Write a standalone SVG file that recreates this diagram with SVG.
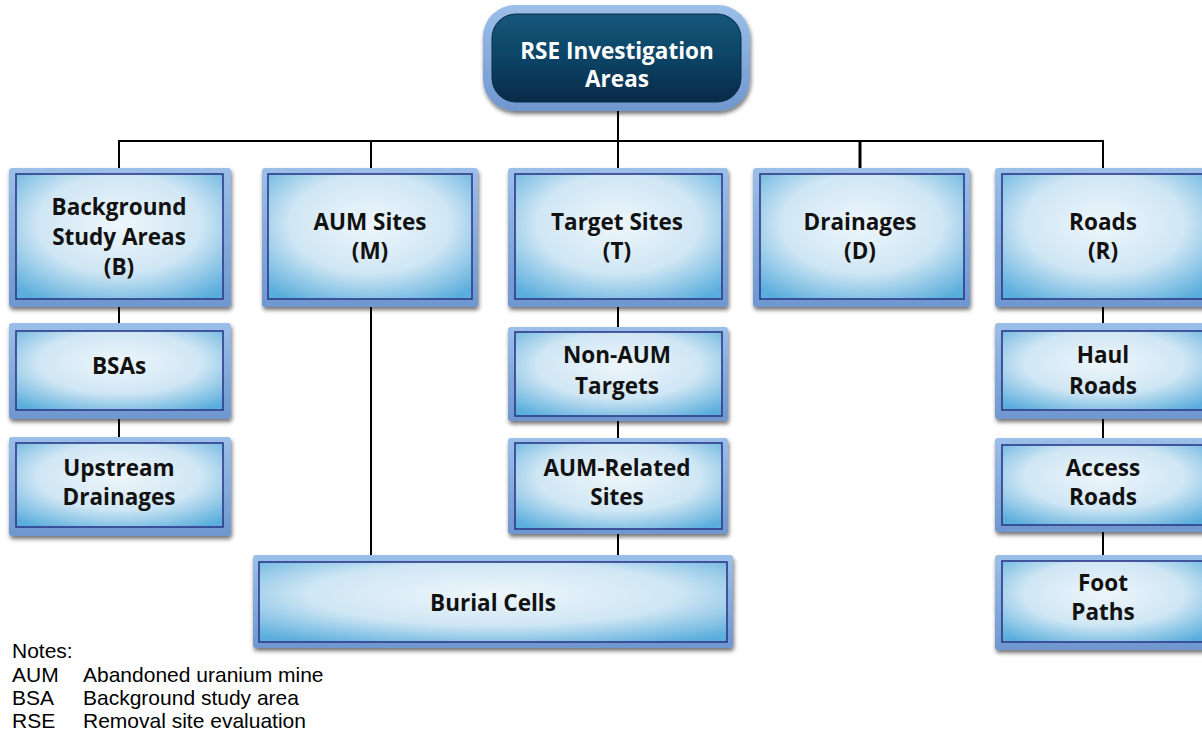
<svg xmlns="http://www.w3.org/2000/svg" width="1202" height="731" viewBox="0 0 1202 731">
<defs>
<radialGradient id="boxFill" cx="50%" cy="40%" r="72%">
<stop offset="0" stop-color="#eef6fb"/>
<stop offset="0.55" stop-color="#cfe6f4"/>
<stop offset="1" stop-color="#5aaddc"/>
</radialGradient>
<linearGradient id="topFill" x1="0" y1="0" x2="0" y2="1">
<stop offset="0" stop-color="#14577a"/>
<stop offset="0.5" stop-color="#0c4466"/>
<stop offset="1" stop-color="#082a47"/>
</linearGradient>
<linearGradient id="rimFill" x1="0" y1="0" x2="0" y2="1">
<stop offset="0" stop-color="#9cbfe9"/>
<stop offset="1" stop-color="#6f97cf"/>
</linearGradient>
<filter id="shadow" x="-10%" y="-10%" width="120%" height="130%">
<feGaussianBlur in="SourceAlpha" stdDeviation="2"/>
<feOffset dx="1" dy="3" result="b"/>
<feComponentTransfer><feFuncA type="linear" slope="0.55"/></feComponentTransfer>
<feMerge><feMergeNode/><feMergeNode in="SourceGraphic"/></feMerge>
</filter>
</defs>
<style>
.rim{fill:url(#rimFill);filter:url(#shadow);}
.inner{fill:url(#boxFill);stroke:#2c3a8a;stroke-width:1.6;}
.lbl{font-family:"Open Sans","DejaVu Sans",sans-serif;font-weight:bold;font-size:22.5px;fill:#111;text-anchor:middle;}
.top{font-family:"Open Sans","DejaVu Sans",sans-serif;font-weight:bold;font-size:22.5px;fill:#ffffff;text-anchor:middle;}
.conn{stroke:#000;stroke-width:2;fill:none;}
.note{font-family:"Liberation Sans",Arial,sans-serif;font-size:21px;fill:#000;}
</style>

<g id="connectors">
<line class="conn" x1="618" y1="108" x2="618" y2="141"/>
<line class="conn" x1="118" y1="141" x2="1104" y2="141"/>
<line class="conn" x1="119" y1="140" x2="119" y2="169"/>
<line class="conn" x1="371" y1="140" x2="371" y2="169"/>
<line class="conn" x1="618" y1="140" x2="618" y2="169"/>
<line class="conn" x1="860" y1="140" x2="860" y2="169" style="stroke-width:3"/>
<line class="conn" x1="1103" y1="140" x2="1103" y2="169"/>
<line class="conn" x1="119" y1="306" x2="119" y2="324"/>
<line class="conn" x1="119" y1="418" x2="119" y2="438"/>
<line class="conn" x1="371" y1="306" x2="371" y2="556"/>
<line class="conn" x1="618" y1="306" x2="618" y2="328"/>
<line class="conn" x1="618" y1="420" x2="618" y2="439"/>
<line class="conn" x1="618" y1="533" x2="618" y2="556"/>
<line class="conn" x1="1103" y1="306" x2="1103" y2="324"/>
<line class="conn" x1="1103" y1="418" x2="1103" y2="439"/>
<line class="conn" x1="1103" y1="531" x2="1103" y2="556"/>
</g>

<g id="node-rse">
<rect x="483" y="5" width="267" height="106" rx="32" fill="url(#rimFill)" filter="url(#shadow)"/>
<rect x="492" y="14" width="249" height="88" rx="24" fill="url(#topFill)" stroke="#0a2a44" stroke-width="1"/>
<text class="top" x="617" y="59">RSE Investigation</text>
<text class="top" x="617" y="87">Areas</text>
</g>

<g id="node-b">
<rect class="rim" x="9" y="168" width="222" height="139" rx="3"/>
<rect class="inner" x="16" y="174" width="207" height="125"/>
<text class="lbl" x="119" y="215">Background</text>
<text class="lbl" x="119" y="245">Study Areas</text>
<text class="lbl" x="119" y="275">(B)</text>
</g>

<g id="node-m">
<rect class="rim" x="262" y="168" width="216" height="139" rx="3"/>
<rect class="inner" x="268" y="174" width="204" height="125"/>
<text class="lbl" x="370" y="230">AUM Sites</text>
<text class="lbl" x="370" y="259">(M)</text>
</g>

<g id="node-t">
<rect class="rim" x="508" y="168" width="220" height="139" rx="3"/>
<rect class="inner" x="515" y="174" width="207" height="125"/>
<text class="lbl" x="617" y="230">Target Sites</text>
<text class="lbl" x="617" y="259">(T)</text>
</g>

<g id="node-d">
<rect class="rim" x="753" y="168" width="217" height="139" rx="3"/>
<rect class="inner" x="760" y="174" width="204" height="125"/>
<text class="lbl" x="860" y="230">Drainages</text>
<text class="lbl" x="860" y="259">(D)</text>
</g>

<g id="node-r">
<rect class="rim" x="995" y="168" width="217" height="139" rx="3"/>
<rect class="inner" x="1002" y="174" width="204" height="125"/>
<text class="lbl" x="1103" y="230">Roads</text>
<text class="lbl" x="1103" y="259">(R)</text>
</g>

<g id="node-bsas">
<rect class="rim" x="9" y="323" width="222" height="96" rx="3"/>
<rect class="inner" x="16" y="331" width="207" height="79"/>
<text class="lbl" x="119" y="374">BSAs</text>
</g>

<g id="node-upstream">
<rect class="rim" x="9" y="437" width="222" height="99" rx="3"/>
<rect class="inner" x="16" y="443" width="207" height="84"/>
<text class="lbl" x="119" y="476">Upstream</text>
<text class="lbl" x="119" y="505">Drainages</text>
</g>

<g id="node-nonaum">
<rect class="rim" x="508" y="327" width="220" height="94" rx="3"/>
<rect class="inner" x="515" y="332" width="207" height="84"/>
<text class="lbl" x="617" y="363">Non-AUM</text>
<text class="lbl" x="617" y="394">Targets</text>
</g>

<g id="node-aumrelated">
<rect class="rim" x="508" y="438" width="220" height="96" rx="3"/>
<rect class="inner" x="515" y="443" width="207" height="86"/>
<text class="lbl" x="617" y="476">AUM-Related</text>
<text class="lbl" x="617" y="505">Sites</text>
</g>

<g id="node-haul">
<rect class="rim" x="995" y="323" width="217" height="96" rx="3"/>
<rect class="inner" x="1002" y="331" width="204" height="79"/>
<text class="lbl" x="1103" y="363">Haul</text>
<text class="lbl" x="1103" y="394">Roads</text>
</g>

<g id="node-access">
<rect class="rim" x="995" y="438" width="217" height="94" rx="3"/>
<rect class="inner" x="1002" y="445" width="204" height="80"/>
<text class="lbl" x="1103" y="476">Access</text>
<text class="lbl" x="1103" y="505">Roads</text>
</g>

<g id="node-foot">
<rect class="rim" x="995" y="555" width="217" height="95" rx="3"/>
<rect class="inner" x="1002" y="561" width="204" height="81"/>
<text class="lbl" x="1103" y="591">Foot</text>
<text class="lbl" x="1103" y="620">Paths</text>
</g>

<g id="node-burial">
<rect class="rim" x="253" y="555" width="480" height="93" rx="3"/>
<rect class="inner" x="259" y="562" width="468" height="80"/>
<text class="lbl" x="493" y="611">Burial Cells</text>
</g>

<g id="notes">
<text class="note" x="12" y="658">Notes:</text>
<text class="note" x="12" y="682">AUM</text>
<text class="note" x="83" y="682">Abandoned uranium mine</text>
<text class="note" x="12" y="705">BSA</text>
<text class="note" x="83" y="705">Background study area</text>
<text class="note" x="12" y="728">RSE</text>
<text class="note" x="83" y="728">Removal site evaluation</text>
</g>
</svg>
